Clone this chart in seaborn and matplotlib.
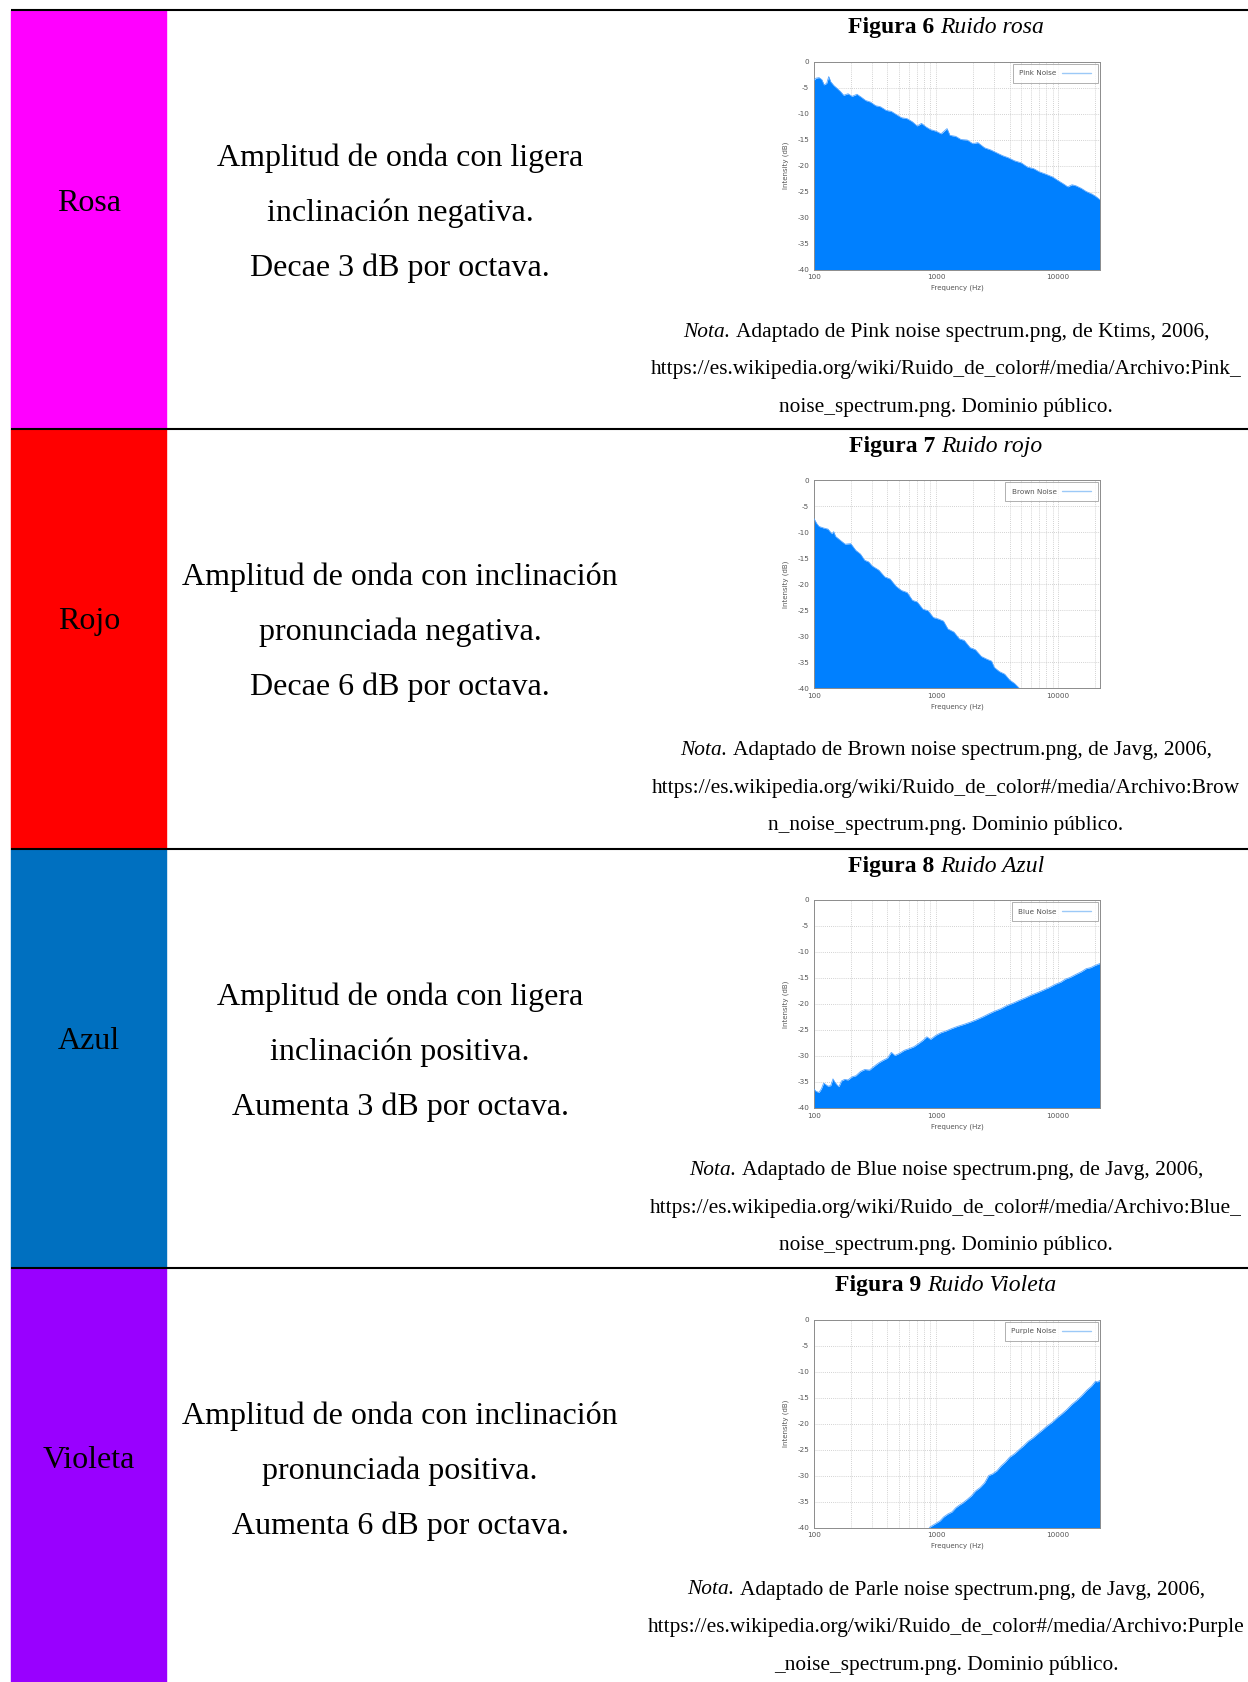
import numpy as np
import pandas as pd
import matplotlib
matplotlib.use('Agg')
import matplotlib.pyplot as plt
import seaborn as sns
from matplotlib.patches import Rectangle
from matplotlib.lines import Line2D
from matplotlib.ticker import NullFormatter

# table content
names = ['Rosa', 'Rojo', 'Azul', 'Violeta']
cell_colors = ['#ff00ff', '#ff0000', '#0070c0', '#9900ff']
descriptions = [
    ['Amplitud de onda con ligera', 'inclinación negativa.', 'Decae 3 dB por octava.'],
    ['Amplitud de onda con inclinación', 'pronunciada negativa.', 'Decae 6 dB por octava.'],
    ['Amplitud de onda con ligera', 'inclinación positiva.', 'Aumenta 3 dB por octava.'],
    ['Amplitud de onda con inclinación', 'pronunciada positiva.', 'Aumenta 6 dB por octava.'],
]
fig_numbers = ['Figura 6', 'Figura 7', 'Figura 8', 'Figura 9']
fig_titles = ['Ruido rosa', 'Ruido rojo', 'Ruido Azul', 'Ruido Violeta']
legend_labels = ['Pink Noise', 'Brown Noise', 'Blue Noise', 'Purple Noise']
nota_first = ['Adaptado de Pink noise spectrum.png, de Ktims, 2006,',
              'Adaptado de Brown noise spectrum.png, de Javg, 2006,',
              'Adaptado de Blue noise spectrum.png, de Javg, 2006,',
              'Adaptado de Parle noise spectrum.png, de Javg, 2006,']
nota_url = ['https://es.wikipedia.org/wiki/Ruido_de_color#/media/Archivo:Pink_',
            'https://es.wikipedia.org/wiki/Ruido_de_color#/media/Archivo:Brow',
            'https://es.wikipedia.org/wiki/Ruido_de_color#/media/Archivo:Blue_',
            'https://es.wikipedia.org/wiki/Ruido_de_color#/media/Archivo:Purple']
nota_last = ['noise_spectrum.png. Dominio público.',
             'n_noise_spectrum.png. Dominio público.',
             'noise_spectrum.png. Dominio público.',
             '_noise_spectrum.png. Dominio público.']

# spectra (upper edge of the filled area)
pink_freq = [100, 104, 110, 116, 121, 127, 132, 137, 145, 155, 165, 175, 190, 205, 225, 245, 265,
             290, 320, 350, 390, 430, 480, 520, 580, 640, 700, 760, 830, 900, 1000, 1100, 1230,
             1300, 1450, 1600, 1800, 2000, 2200, 2500, 2800, 3100, 3500, 3900, 4400, 5000, 5600,
             6300, 7000, 8000, 9000, 10000, 11000, 12000, 13000, 14000, 15500, 17000, 19000,
             20500, 22050]
pink_db = [-3.6, -3.2, -3.1, -3.5, -4.5, -4.2, -2.9, -3.9, -4.6, -5.2, -5.8, -6.5, -6.2, -6.7,
           -6.3, -6.9, -7.5, -7.8, -8.5, -8.7, -9.4, -9.6, -10.3, -10.8, -11.0, -11.6, -12.4,
           -11.9, -12.6, -13.1, -13.4, -13.9, -12.9, -14.2, -14.4, -15.0, -15.1, -15.8, -15.6,
           -16.6, -17.0, -17.5, -18.1, -18.5, -19.1, -19.5, -20.3, -20.6, -21.2, -21.7, -22.2,
           -22.9, -23.5, -24.1, -23.7, -23.9, -24.4, -25.0, -25.5, -26.0, -26.6]

brown_freq = [100, 105, 110, 120, 130, 140, 145, 150, 165, 180, 200, 220, 240, 260, 280, 300,
              340, 380, 420, 470, 520, 580, 640, 700, 780, 860, 950, 1050, 1150, 1250, 1400,
              1550, 1700, 1900, 2100, 2350, 2600, 2850, 3000, 3300, 3650, 4000, 4400, 4800]
brown_db = [-7.4, -8.3, -8.9, -9.2, -9.4, -10.3, -9.9, -10.8, -11.6, -12.3, -12.2, -13.5, -14.2,
            -15.4, -15.7, -16.5, -17.3, -18.6, -19.0, -20.4, -21.2, -21.6, -23.1, -23.4, -24.8,
            -25.1, -26.4, -26.7, -27.1, -28.6, -29.2, -30.5, -30.8, -32.2, -32.6, -33.9, -34.4,
            -34.8, -36.0, -36.8, -37.3, -38.4, -39.1, -40.0]

blue_freq = [100, 104, 110, 115, 120, 125, 130, 137, 143, 148, 155, 160, 168, 178, 190, 205, 220,
             240, 260, 285, 310, 340, 370, 400, 430, 460, 500, 550, 600, 660, 720, 780, 840, 900,
             1000, 1100, 1200, 1350, 1500, 1700, 1900, 2100, 2400, 2700, 3000, 3400, 3800, 4300,
             4800, 5400, 6000, 6800, 7600, 8500, 9500, 10500, 11500, 12500, 14000, 15500, 17000,
             18500, 20000, 22050]
blue_db = [-36.4, -36.8, -37.0, -36.3, -35.2, -35.5, -35.8, -35.7, -34.4, -35.0, -35.6, -35.9,
           -34.8, -34.5, -34.6, -34.0, -33.8, -33.0, -32.6, -32.7, -32.0, -31.3, -30.8, -30.4,
           -29.3, -29.9, -29.5, -28.9, -28.6, -28.2, -27.6, -27.0, -26.3, -26.8, -26.0, -25.5,
           -25.2, -24.7, -24.3, -23.9, -23.5, -23.1, -22.5, -21.9, -21.4, -20.9, -20.3, -19.8,
           -19.3, -18.8, -18.3, -17.8, -17.3, -16.8, -16.2, -15.8, -15.2, -14.9, -14.3, -13.8,
           -13.2, -13.0, -12.6, -12.2]

purple_freq = [880, 950, 1000, 1080, 1150, 1250, 1350, 1450, 1550, 1650, 1800, 1950, 2100, 2300,
               2500, 2700, 2900, 3150, 3400, 3700, 4000, 4400, 4800, 5200, 5700, 6200, 6800,
               7400, 8100, 8900, 9800, 10800, 11800, 13000, 14300, 15700, 17200, 18800, 20200,
               21000, 22050]
purple_db = [-40.0, -39.5, -39.2, -38.7, -38.0, -37.4, -37.0, -36.2, -35.7, -35.3, -34.6, -33.9,
             -33.0, -32.3, -31.4, -30.0, -29.7, -29.1, -28.2, -27.4, -26.5, -25.8, -25.0, -24.3,
             -23.4, -22.8, -22.0, -21.3, -20.5, -19.8, -18.9, -18.1, -17.3, -16.3, -15.5, -14.6,
             -13.6, -12.8, -11.9, -12.0, -11.7]

spectra = [(pink_freq, pink_db), (brown_freq, brown_db), (blue_freq, blue_db), (purple_freq, purple_db)]

W, H = 1248, 1682
row_tops = [10, 428.7, 848.5, 1268]

sns.set_style('white')
plt.rcParams['axes.unicode_minus'] = False
plt.rcParams['text.color'] = 'black'

fig = plt.figure(figsize=(W / 100, H / 100), dpi=100)
bg = fig.add_axes([0, 0, 1, 1])
bg.set_xlim(0, W)
bg.set_ylim(H, 0)
bg.axis('off')
renderer = fig.canvas.get_renderer()

serif = 'Liberation Serif'
fill_color = '#0080ff'
edge_color = '#5aa8ff'
grid_color = '#c4c4c4'
frame_color = '#8c8c8c'
tick_color = '#555555'


def text_width(s, **kw):
    t = bg.text(0, 0, s, family=serif, **kw)
    w = t.get_window_extent(renderer).width
    t.remove()
    return w


def mixed_text(xc, y, parts, size):
    # parts: (text, style, weight) joined by a single space, centred on xc
    space = text_width('x x', fontsize=size) - text_width('xx', fontsize=size)
    widths = [text_width(s, fontsize=size, style=st, weight=wt) for s, st, wt in parts]
    x = xc - (sum(widths) + space * (len(parts) - 1)) / 2
    for (s, st, wt), w in zip(parts, widths):
        bg.text(x, y, s, family=serif, fontsize=size, style=st, weight=wt,
                ha='left', va='center', color='black')
        x += w + space


for i in range(4):
    top = row_tops[i]
    bottom = row_tops[i + 1] if i < 3 else H
    bg.add_patch(Rectangle((11, top), 155, bottom - top, color=cell_colors[i], zorder=1))
    bg.plot([11, W], [top, top], color='black', lw=1.5, zorder=2, solid_capstyle='butt')

    bg.text(89, top + 193, names[i], family=serif, fontsize=23, ha='center', va='center')
    for k, line in enumerate(descriptions[i]):
        bg.text(400, top + 148.5 + 55 * k, line, family=serif, fontsize=23,
                ha='center', va='center')

    mixed_text(946, top + 17.5, [(fig_numbers[i], 'normal', 'bold'),
                                 (fig_titles[i], 'italic', 'normal')], 17)
    mixed_text(946, top + 322, [('Nota.', 'italic', 'normal'),
                                (nota_first[i], 'normal', 'normal')], 15.4)
    bg.text(946, top + 322 + 37.6, nota_url[i], family=serif, fontsize=15.4,
            ha='center', va='center')
    bg.text(946, top + 322 + 75.2, nota_last[i], family=serif, fontsize=15.4,
            ha='center', va='center')

    # spectrum chart
    ax_top = top + 51.5
    ax_h = 208
    ax = fig.add_axes([814 / W, 1 - (ax_top + ax_h) / H, 286 / W, ax_h / H])
    freq, db = spectra[i]
    df = pd.DataFrame({'freq': freq, 'db': db})
    ax.fill_between(df['freq'], df['db'], -40, color=fill_color, lw=0, zorder=2)
    sns.lineplot(data=df, x='freq', y='db', ax=ax, color=edge_color, lw=0.6, zorder=3)
    ax.set_xscale('log')
    ax.set_xlim(100, 22050)
    ax.set_ylim(-40, 0)
    ax.set_xticks([100, 1000, 10000])
    ax.set_xticklabels(['100', '1000', '10000'])
    ax.xaxis.set_minor_formatter(NullFormatter())
    ax.set_yticks(list(range(-40, 1, 5)))
    ax.grid(which='both', axis='x', ls=(0, (1, 1.5)), color=grid_color, lw=0.6, zorder=1)
    ax.grid(which='major', axis='y', ls=(0, (1, 1.5)), color=grid_color, lw=0.6, zorder=1)
    ax.tick_params(axis='both', which='both', direction='in', length=2, width=0.4,
                   colors=frame_color, labelcolor=tick_color, labelsize=5.2, pad=3.5)
    for sp in ax.spines.values():
        sp.set_color(frame_color)
        sp.set_linewidth(0.7)
    ax.set_xlabel('Frequency (Hz)', fontsize=5, color=tick_color, labelpad=3)
    ax.set_ylabel('Intensity (dB)', fontsize=5, color=tick_color, labelpad=6)
    handle = Line2D([], [], color='#9cc9f7', lw=1.0)
    leg = ax.legend([handle], [legend_labels[i]], loc='upper right', fontsize=5.2,
                    frameon=True, fancybox=False, edgecolor=frame_color, handlelength=4,
                    borderaxespad=0.3, borderpad=0.9, markerfirst=False)
    leg.get_frame().set_linewidth(0.6)
    for t in leg.get_texts():
        t.set_color(tick_color)

fig.savefig('out.png', dpi=100)
